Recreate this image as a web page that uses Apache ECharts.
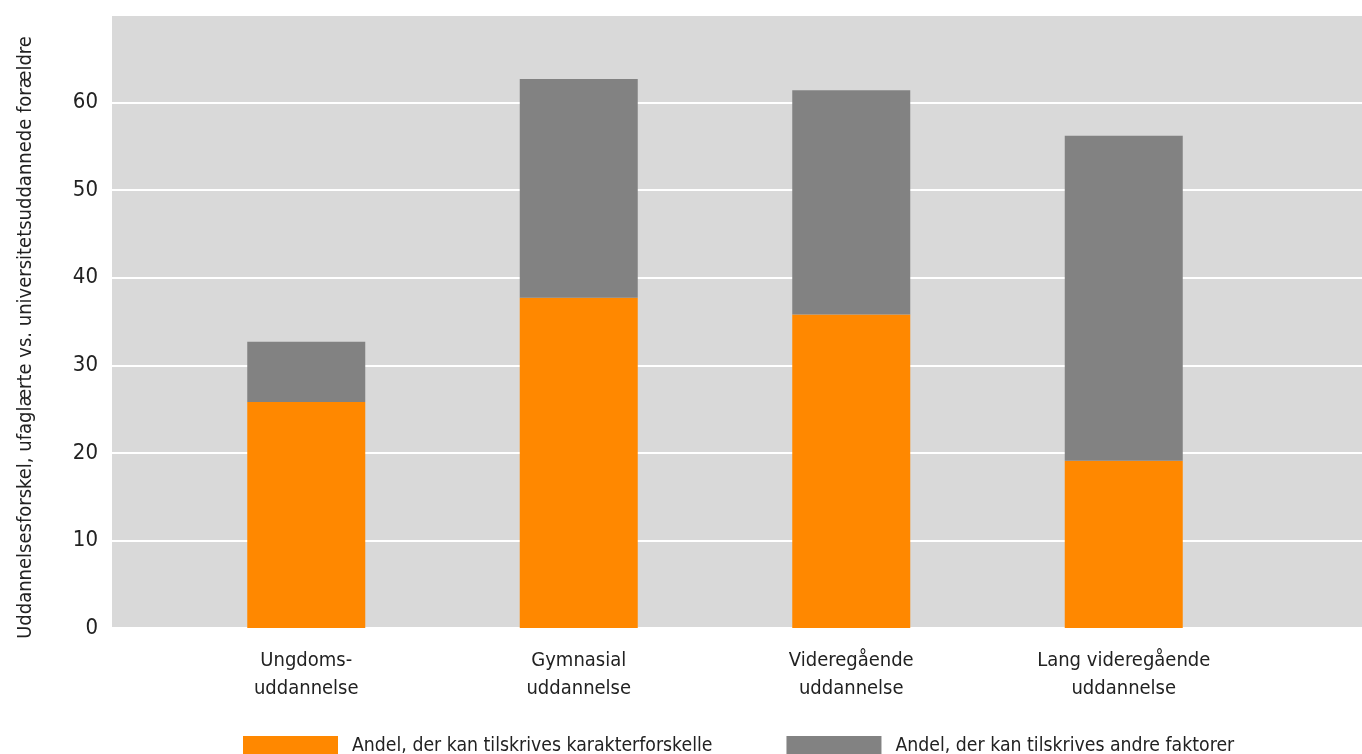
<!DOCTYPE html>
<html><head><meta charset="utf-8">
<script src="https://cdn.jsdelivr.net/npm/echarts@6/dist/echarts.min.js"></script>
<style>html,body{margin:0;padding:0;background:#fff}#c{width:1362px;height:754px}</style>
</head><body><div id="c"></div>
<script>
const categories = ['Ungdoms-\nuddannelse', 'Gymnasial\nuddannelse', 'Videregående\nuddannelse', 'Lang videregående\nuddannelse'];
const karakter = [25.8, 37.7, 35.8, 19.1];
const andre = [6.9, 25.0, 25.6, 37.1];
const yTicks = [0, 10, 20, 30, 40, 50, 60, 70];
const seriesNames = ['Andel, der kan tilskrives karakterforskelle', 'Andel, der kan tilskrives andre faktorer'];
const yName = 'Uddannelsesforskel, ufaglærte vs. universitetsuddannede forældre';

const FONT = '"Liberation Sans Narrow", "DejaVu Sans Condensed", "Roboto", sans-serif';
const chart = echarts.init(document.getElementById('c'));
chart.setOption({
  animation: false,
  textStyle: { fontFamily: FONT, color: '#222' },
  grid: [
    { left: 112, right: 0, top: 15, bottom: 126, show: true, backgroundColor: '#d9d9d9', borderWidth: 0 },
    { left: 170, right: 102, top: 15, bottom: 126 }
  ],
  xAxis: [
    { gridIndex: 0, type: 'value', show: false, min: 0, max: 1 },
    { gridIndex: 1, type: 'category', data: categories,
      axisLine: { show: false }, axisTick: { show: false },
      axisLabel: { fontSize: 20, color: '#222', fontFamily: FONT, margin: 19, lineHeight: 28 } }
  ],
  yAxis: [
    { gridIndex: 0, type: 'value', min: yTicks[0], max: yTicks[yTicks.length - 1], interval: 10,
      axisLine: { show: false }, axisTick: { show: false },
      axisLabel: { fontSize: 22, color: '#222', fontFamily: FONT, margin: 14,
        formatter: v => (v === 70 ? '' : String(v)) },
      splitLine: { show: true, lineStyle: { color: '#ffffff', width: 2 } },
      name: yName, nameLocation: 'middle', nameGap: 76,
      nameTextStyle: { fontSize: 20, color: '#222', fontFamily: FONT, padding: [0, 32, 0, 0] } },
    { gridIndex: 1, type: 'value', min: 0, max: 70, interval: 10, show: false }
  ],
  legend: {
    left: 243, top: 736, padding: 0, itemWidth: 95, itemHeight: 20, itemGap: 74,
    icon: 'rect',
    textStyle: { fontSize: 19.3, color: '#222', fontFamily: FONT, padding: [0, 0, 0, 9] },
    data: seriesNames
  },
  series: [
    { name: seriesNames[0], type: 'bar', stack: 'a', xAxisIndex: 1, yAxisIndex: 1,
      data: karakter, barWidth: 118, itemStyle: { color: '#ff8800' } },
    { name: seriesNames[1], type: 'bar', stack: 'a', xAxisIndex: 1, yAxisIndex: 1,
      data: andre, barWidth: 118, itemStyle: { color: '#828282' } }
  ]
});
</script></body></html>
